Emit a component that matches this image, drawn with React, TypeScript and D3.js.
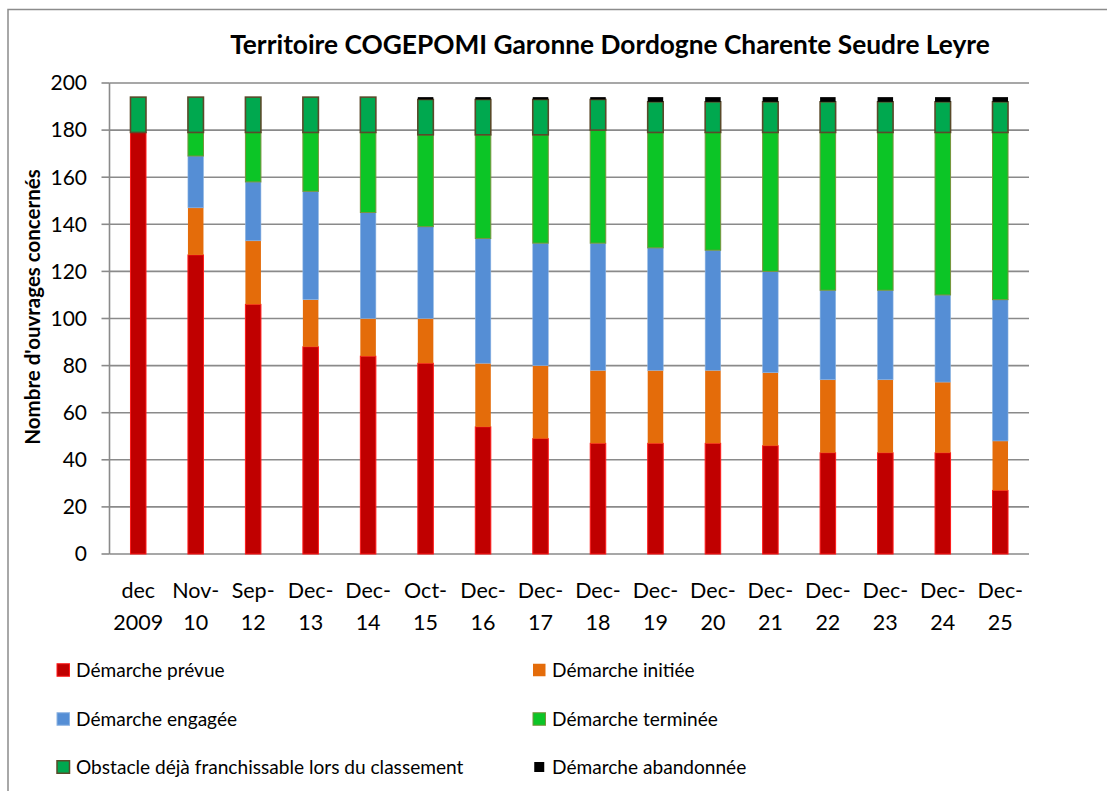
import React from "react";
import * as d3 from "d3";

const categoriesTop = ["dec", "Nov-", "Sep-", "Dec-", "Dec-", "Oct-", "Dec-", "Dec-", "Dec-", "Dec-", "Dec-", "Dec-", "Dec-", "Dec-", "Dec-", "Dec-"];
const categoriesBottom = ["2009", "10", "12", "13", "14", "15", "16", "17", "18", "19", "20", "21", "22", "23", "24", "25"];

const prevue = [179, 127, 106, 88, 84, 81, 54, 49, 47, 47, 47, 46, 43, 43, 43, 27];
const initiee = [0, 20, 27, 20, 16, 19, 27, 31, 31, 31, 31, 31, 31, 31, 30, 21];
const engagee = [0, 22, 25, 46, 45, 39, 53, 52, 54, 52, 51, 43, 38, 38, 37, 60];
const terminee = [0, 10, 21, 25, 34, 39, 44, 46, 48, 49, 50, 59, 67, 67, 69, 71];
const obstacle = [15, 15, 15, 15, 15, 15, 15, 15, 13, 13, 13, 13, 13, 13, 13, 13];
const abandonnee = [0, 0, 0, 0, 0, 1, 1, 1, 1, 2, 2, 2, 2, 2, 2, 2];

const yTicks = [0, 20, 40, 60, 80, 100, 120, 140, 160, 180, 200];

const seriesNames = [
  "Démarche prévue",
  "Démarche initiée",
  "Démarche engagée",
  "Démarche terminée",
  "Obstacle déjà franchissable lors du classement",
  "Démarche abandonnée",
];
const keys = ["prevue", "initiee", "engagee", "terminee", "obstacle", "abandonnee"];
const fills = ["#C00000", "#E46C0A", "#558ED5", "#0CC526", "#00A84F", "#000000"];
const strokes = ["#FF1A1A", "none", "#8DB4E2", "#77933C", "#5A4A2A", "none"];
const strokeWidths = [1, 0, 0.6, 1, 1.6, 0];

const W = 1107;
const H = 791;
const FONT = "Lato, 'Open Sans', sans-serif";

export default function App() {
  const table = categoriesBottom.map((c, i) => ({
    key: i,
    prevue: prevue[i],
    initiee: initiee[i],
    engagee: engagee[i],
    terminee: terminee[i],
    obstacle: obstacle[i],
    abandonnee: abandonnee[i],
  }));
  const stacked = d3.stack<any>().keys(keys)(table);

  const x = d3
    .scaleBand<number>()
    .domain(table.map((d) => d.key))
    .range([109.5, 1029])
    .paddingInner(0.73)
    .paddingOuter(0.365);
  const y = d3.scaleLinear().domain([0, 200]).range([554, 83]);

  const left = 109.5;
  const right = 1029;

  const legendRows = [
    [0, 1],
    [2, 3],
    [4, 5],
  ];
  const legendY = [670, 719, 767];
  const legendX = [57, 533];

  return (
    <svg width={W} height={H} style={{ display: "block", position: "absolute", left: 0, top: 0 }}>
      <rect x={0} y={0} width={W} height={H} fill="#fff" />
      <rect x={8} y={9.5} width={W + 20} height={H + 20} fill="#fff" stroke="#8c8c8c" strokeWidth={1.5} />
      <text
        x={610}
        y={54}
        textAnchor="middle"
        fontFamily={FONT}
        fontWeight="bold"
        fontSize={26.3}
        fill="#000"
      >
        Territoire COGEPOMI Garonne Dordogne Charente Seudre Leyre
      </text>

      {yTicks.map((t) => (
        <g key={t}>
          <line x1={left} x2={right} y1={y(t)} y2={y(t)} stroke="#8a8a8a" strokeWidth={1.6} />
          <line x1={left - 8} x2={left} y1={y(t)} y2={y(t)} stroke="#8a8a8a" strokeWidth={1.6} />
          <text
            x={87}
            y={y(t)}
            dy="0.35em"
            textAnchor="end"
            fontFamily={FONT}
            fontSize={21}
            fill="#000"
          >
            {t}
          </text>
        </g>
      ))}
      <line x1={left} x2={left} y1={y(200)} y2={y(0)} stroke="#8a8a8a" strokeWidth={1.6} />

      {stacked.map((s, si) => (
        <g key={s.key}>
          {s.map((d, i) => {
            const h = y(d[0]) - y(d[1]);
            if (h <= 0) return null;
            return (
              <rect
                key={i}
                x={x(i)}
                y={y(d[1])}
                width={x.bandwidth()}
                height={h}
                fill={fills[si]}
                stroke={strokes[si]}
                strokeWidth={strokeWidths[si]}
              />
            );
          })}
        </g>
      ))}

      {categoriesBottom.map((c, i) => {
        const cx = (x(i) as number) + x.bandwidth() / 2;
        return (
          <text key={i} fontFamily={FONT} fontSize={21.5} fill="#000" textAnchor="middle">
            <tspan x={cx} y={598}>
              {categoriesTop[i]}
            </tspan>
            <tspan x={cx} y={630}>
              {c}
            </tspan>
          </text>
        );
      })}

      <text
        transform="translate(40,307) rotate(-90)"
        textAnchor="middle"
        fontFamily={FONT}
        fontWeight="bold"
        fontSize={20.5}
        fill="#000"
      >
        Nombre d'ouvrages concernés
      </text>

      {legendRows.map((row, ri) =>
        row.map((si, ci) => {
          const size = si === 5 ? 10 : 12.5;
          const mx = legendX[ci] + (12.5 - size) / 2;
          return (
            <g key={si}>
              <rect
                x={mx}
                y={legendY[ri] - size / 2}
                width={size}
                height={size}
                fill={fills[si]}
                stroke={si === 5 ? "none" : strokes[si] === "none" ? "none" : strokes[si]}
                strokeWidth={si === 4 ? 1.5 : 1}
              />
              <text
                x={legendX[ci] + 19}
                y={legendY[ri]}
                dy="0.35em"
                fontFamily={FONT}
                fontSize={19.1}
                fill="#000"
              >
                {seriesNames[si]}
              </text>
            </g>
          );
        })
      )}
    </svg>
  );
}
